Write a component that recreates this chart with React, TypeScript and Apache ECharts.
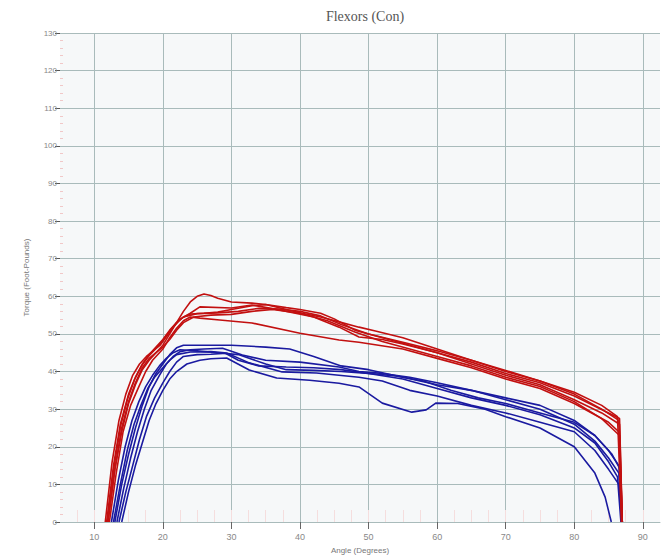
import React, { useEffect, useRef } from "react";
import * as echarts from "echarts";

const TITLE = "Flexors (Con)";
const X_NAME = "Angle (Degrees)";
const Y_NAME = "Torque (Foot-Pounds)";
const X_TICKS = [10, 20, 30, 40, 50, 60, 70, 80, 90];

type Pt = [number, number];

const RED_CURVES: Pt[][] = [
  [[12,0],[13,14],[14,25],[15,32],[16,37],[17,41],[18,43.5],[19,45],[20,47],[21,50],[22,53],[23,56],[24,58.5],[25,60],[26,60.6],[27,60.2],[28,59.5],[30,58.5],[33,58.2],[35,57.8],[38,56.5],[40.3,55.5],[43,54.5],[45.7,53.2],[48.6,51.8],[51,50.8],[55,49],[60,46],[65,43],[70,40],[75,37.5],[80,34],[84,30],[86.5,27],[87,0]],
  [[11.8,0],[12.8,15],[13.8,26],[15,34],[16,38.5],[17,42],[18,44.5],[19,46.5],[20,48.5],[21,51],[22,53],[23,54.5],[24,55.3],[26,55.5],[28,55.8],[30,56.5],[33,57.5],[35,57.8],[38,57],[40,56.5],[43,55.5],[45,54],[48,51],[50,50],[55,47.5],[60,45],[65,42.5],[70,39.5],[75,37],[80,33.5],[85,29],[86.6,27.5],[87,0]],
  [[12.2,0],[13.2,13],[14.2,24],[15.3,31],[16.5,36],[17.5,40],[18.5,43],[20,46],[21,49],[22,51.5],[23,53.5],[24,54.5],[25.4,54.2],[28.3,53.7],[33,52.9],[40,50.2],[45.7,48.4],[48.6,47.8],[55,46],[60,43.5],[65,41],[70,38],[75,35.5],[80,31.5],[85,26.5],[86.5,24],[86.9,0]],
  [[11.6,0],[12.6,16],[13.6,27],[14.6,34],[15.6,39],[16.6,42],[17.6,44],[18.6,45.5],[19.6,47],[20.6,49.5],[21.6,52],[22.6,54],[24,55.5],[25.4,57.2],[30,56.9],[33,57.7],[37,56.4],[42,54.5],[45.7,51.8],[48.6,49.2],[52,48.5],[55,47.3],[60,45],[65,42],[70,39],[75,36.5],[80,32.5],[84,29],[86.6,26],[87,0]],
  [[12,0],[13,14],[14,24],[15,31.5],[16,36.5],[17,40.5],[18,43],[19,45],[20,46.5],[21,48.5],[22,51],[23,53],[24.5,54.5],[27,55],[30,55.2],[33,56],[36,56.5],[40,55.5],[44,53.5],[48,50.5],[52,48],[56,46],[60,44],[65,41.5],[70,38.5],[75,36],[80,32],[84,27.5],[86.6,23],[87,0]],
  [[11.9,0],[12.9,15],[13.9,26],[14.9,33],[15.9,38],[16.9,41.5],[17.9,44],[18.9,46],[19.9,48],[20.9,50.5],[21.9,52.8],[23,54.5],[25,55.4],[28,55.6],[31,56],[34,56.8],[37,56.6],[40,56],[43,54.8],[46,52.5],[50,50],[55,47.8],[60,45.5],[65,43],[70,40.3],[75,37.5],[80,34.5],[84,31],[86.3,28],[86.9,0]],
];

const BLUE_CURVES: Pt[][] = [
  [[13,0],[14,10],[15,18],[16,25],[17,31],[18,36],[19,39.5],[20,42],[21,44.5],[22,46.3],[23,47],[25,47],[30,47],[35,46.5],[38.5,46],[42,44],[46,41.5],[50,40.5],[55,38.5],[60,36.5],[65,35],[70,33],[75,31],[80,27],[83,23],[85,19],[86.5,15],[87,0]],
  [[13.3,0],[14.3,9],[15.3,17],[16.3,24],[17.3,30],[18.3,35],[19.5,39],[20.5,42],[21.5,44],[22.5,45.3],[24,45.8],[26,46],[28.7,46.2],[31.6,44.4],[35,43],[40,42.5],[45.7,41.2],[48.6,40],[52,39.5],[56,38.5],[60,37],[65,35],[70,32.5],[75,30],[80,26],[83,21.5],[85,17],[86.5,13],[86.9,0]],
  [[13.6,0],[14.6,8],[15.6,15],[16.6,22],[17.6,28],[18.8,33],[20,37],[21,40],[22,42.5],[23,44],[25,44.5],[27,44.6],[29.3,44.9],[32.6,42.3],[37.4,39.9],[42.4,39.6],[48.6,38.5],[52,37.5],[56,35],[60,33.5],[65,31],[70,29],[75,26.5],[80,24],[83,19],[85,14],[86.5,10],[86.9,0]],
  [[14,0],[15,8],[16,15],[17,21],[18,27],[19,31.5],[20,35],[21,38],[22,40],[23.5,42],[25.4,43],[27,43.4],[29.3,43.6],[32.6,40.4],[36.6,38.3],[41.4,37.7],[45.7,36.9],[48.6,35.9],[52,31.6],[56.3,29.2],[58.4,29.8],[59.8,31.6],[63,31.5],[67,30],[70,28],[75,25],[80,20],[83,13],[84.5,6.6],[85.4,0]],
  [[12.5,0],[13.5,11],[14.5,20],[15.5,27],[16.5,32],[17.5,36],[18.5,39],[19.5,41.5],[20.5,43.5],[21.5,45],[22.5,45.8],[25,45.5],[28,45],[31,44.5],[35,42],[38,40.5],[42,40.3],[46,40],[50,39.5],[55,38],[60,35.5],[65,33],[70,31],[75,28.5],[80,25],[83,21],[85,16],[86.3,12],[86.8,0]],
  [[12.8,0],[13.8,10],[14.8,19],[15.8,26],[16.8,31],[17.8,35.5],[18.8,38.5],[20,41],[21,43],[22,44.5],[24,45.2],[27,45.3],[29,45],[31,43],[34,41.5],[38,41.2],[42,41],[46,40.5],[50,39.5],[54,38.8],[58,37.5],[62,35],[66,33],[70,31.5],[75,29],[80,26.5],[83,23],[85.5,18],[86.7,14],[87,0]],
];

const RED = "#c21010";
const BLUE = "#1a1aa0";
const GRID = "#a9bbbb";

export default function App() {
  const ref = useRef<HTMLDivElement>(null);
  useEffect(() => {
    if (!ref.current) return;
    const chart = echarts.init(ref.current, null, { renderer: "svg" });
    const series: any[] = [];
    BLUE_CURVES.forEach((c, i) =>
      series.push({
        type: "line",
        name: "blue" + i,
        data: c,
        showSymbol: false,
        lineStyle: { color: BLUE, width: 1.6 },
        itemStyle: { color: BLUE },
      })
    );
    RED_CURVES.forEach((c, i) =>
      series.push({
        type: "line",
        name: "red" + i,
        data: c,
        showSymbol: false,
        lineStyle: { color: RED, width: 1.6 },
        itemStyle: { color: RED },
      })
    );
    chart.setOption({
      animation: false,
      backgroundColor: "#ffffff",
      title: {
        text: TITLE,
        left: 360,
        textAlign: "center",
        top: 4,
        textStyle: {
          fontFamily: "Liberation Serif",
          fontWeight: "normal",
          fontSize: 14,
          color: "#555",
        },
      },
      grid: {
        left: 60,
        right: 2,
        top: 33,
        bottom: 34,
        containLabel: false,
        outerBoundsMode: "none",
        show: true,
        backgroundColor: "#f6f8f9",
        borderWidth: 0,
      },
      xAxis: {
        type: "value",
        min: 5,
        max: 92.5,
        name: X_NAME,
        nameLocation: "middle",
        nameGap: 24,
        nameTextStyle: { fontSize: 8, color: "#777", fontFamily: "Liberation Sans" },
        axisLine: { show: true, lineStyle: { color: GRID } },
        axisTick: { show: true, customValues: X_TICKS, length: 7, lineStyle: { color: "#666" } },
        axisLabel: { customValues: X_TICKS, fontSize: 9, color: "#888", margin: 10, fontFamily: "Liberation Sans" },
        splitLine: { show: true, lineStyle: { color: GRID, width: 1 } },
        minorTick: { show: true, splitNumber: 8, length: -12, lineStyle: { color: "#f5dede" } },
      },
      yAxis: {
        type: "value",
        min: 0,
        max: 130,
        interval: 10,
        name: Y_NAME,
        nameLocation: "middle",
        nameGap: 30,
        nameTextStyle: { fontSize: 8, color: "#777", fontFamily: "Liberation Sans" },
        axisLine: { show: false },
        axisTick: { show: true, length: 5, lineStyle: { color: "#555" } },
        axisLabel: { fontSize: 8, color: "#888", margin: 3, fontFamily: "Liberation Sans" },
        splitLine: { show: true, lineStyle: { color: GRID, width: 1 } },
        minorTick: { show: true, splitNumber: 5, length: -3, lineStyle: { color: "#f0c8c8" } },
      },
      series,
    });
    return () => chart.dispose();
  }, []);
  return (
    <div
      ref={ref}
      style={{ position: "absolute", left: 0, top: 0, width: 662, height: 556 }}
    />
  );
}
